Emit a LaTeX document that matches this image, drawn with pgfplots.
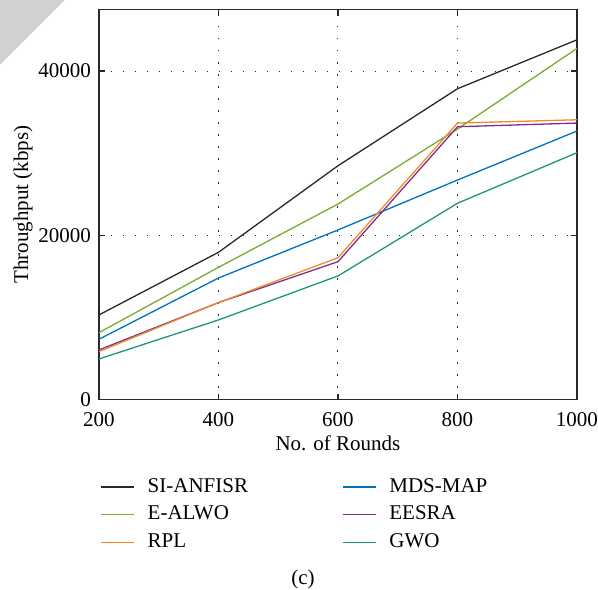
\documentclass[border=0pt]{standalone}
\usepackage{pgfplots}
\pgfplotsset{compat=1.18}
\usepackage{fontspec}
\setmainfont{Liberation Serif}
\definecolor{cblack}{RGB}{40,40,40}
\definecolor{cgreen}{RGB}{119,172,48}
\definecolor{corange}{RGB}{237,140,40}
\definecolor{cblue}{RGB}{0,114,189}
\definecolor{cpurple}{RGB}{126,47,142}
\definecolor{cteal}{RGB}{30,150,115}
\begin{document}
\begin{tikzpicture}
\path[use as bounding box] (-49.5pt,-94.75pt) rectangle (249.5pt,199.75pt);
\fill[black!18] (-49.5pt,199.75pt) -- (-17pt,199.75pt) -- (-49.5pt,167.25pt) -- cycle;
\begin{axis}[
  at={(0,0)}, anchor=south west,
  scale only axis, width=239pt, height=195pt,
  xmin=200, xmax=1000, ymin=0, ymax=47500,
  xtick={200,400,...,1000}, ytick={0,20000,40000},
  scaled y ticks=false,
  /pgf/number format/1000 sep={},
  /pgf/number format/assume math mode=true,
  tick label style={font=\fontsize{10.5}{12}\selectfont},
  xticklabel style={yshift=-2.8pt},
  yticklabel style={xshift=-0.5pt},
  label style={font=\fontsize{10.5}{12}\selectfont},
  xlabel style={yshift=2pt},
  ylabel shift=-4pt,
  tick align=inside, tickpos=both,
  major tick length=3pt,
  axis line style={cblack, line width=0.7pt},
  tick style={cblack, line width=0.6pt},
  grid=major,
  major grid style={cblack, line width=0.5pt, dash pattern=on 0.6pt off 5.4pt},
  xlabel={No. of Rounds}, ylabel={Throughput (kbps)},
  legend columns=2,
  legend cell align=left,
  legend image code/.code={\draw[#1, line width=0.65pt] (0pt,0pt) -- (16.5pt,0pt);},
  legend style={at={(0,0)}, anchor=north west, xshift=0.5pt, yshift=-39pt,
    draw=none, fill=none, inner sep=0pt, row sep=4.6pt,
    font=\fontsize{10.5}{12}\selectfont,
    nodes={inner xsep=0pt, inner ysep=0pt, text height=7.2pt, text depth=2pt},
    /tikz/every odd column/.append style={column sep=6.5pt},
    /tikz/every even column/.append style={column sep=47pt}},
]
\addplot[cblack, line width=0.65pt] coordinates {(200,10300)(400,17930)(600,28470)(800,37850)(1000,43810)};
\addlegendentry{SI-ANFISR}
\addplot[cblue, line width=0.65pt] coordinates {(200,7340)(400,14800)(600,20650)(800,26730)(1000,32700)};
\addlegendentry{MDS-MAP}
\addplot[cgreen, line width=0.65pt] coordinates {(200,8140)(400,16100)(600,23810)(800,32940)(1000,42760)};
\addlegendentry{E-ALWO}
\addplot[cpurple, line width=0.65pt] coordinates {(200,6040)(400,11800)(600,16790)(800,33220)(1000,33670)};
\addlegendentry{EESRA}
\addplot[corange, line width=0.65pt] coordinates {(200,5830)(400,11800)(600,17270)(800,33670)(1000,34070)};
\addlegendentry{RPL}
\addplot[cteal, line width=0.65pt] coordinates {(200,4940)(400,9690)(600,15050)(800,23900)(1000,30060)};
\addlegendentry{GWO}
\end{axis}
\begin{axis}[
  at={(0,0)}, anchor=south west,
  scale only axis, width=239pt, height=195pt,
  xmin=200, xmax=1000, ymin=0, ymax=47500,
  axis x line*=bottom, hide y axis,
  xtick=\empty, minor xtick={220,240,...,980},
  tick align=inside, minor tick length=1.5pt,
  axis line style={cblack, line width=0.7pt, -},
  minor tick style={cblack, line width=0.5pt},
]
\end{axis}
\node[font=\fontsize{10.5}{12}\selectfont] at (102pt,-90pt) {(c)};
\end{tikzpicture}
\end{document}
